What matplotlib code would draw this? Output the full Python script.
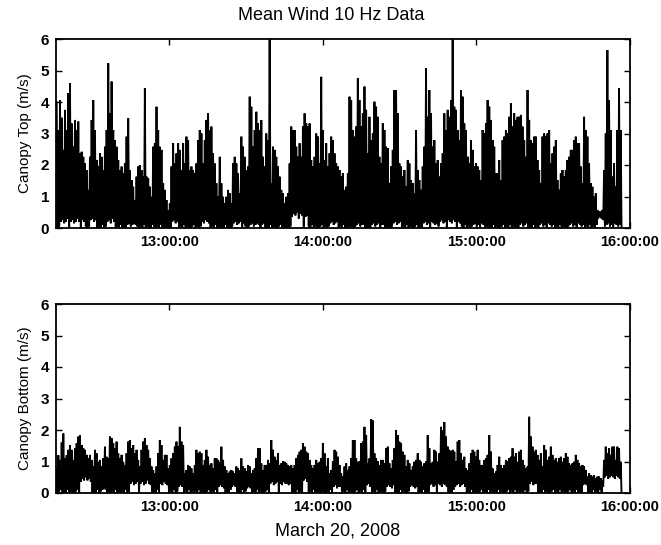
import numpy as np
import matplotlib
matplotlib.use('Agg')
import matplotlib.pyplot as plt
import matplotlib.dates as mdates
from datetime import datetime

# ---------------- data ----------------
title = "Mean Wind 10 Hz Data"
x_label = "March 20, 2008"
top_ylabel = "Canopy Top (m/s)"
bot_ylabel = "Canopy Bottom (m/s)"
y_ticks = [0, 1, 2, 3, 4, 5, 6]
hour_ticks = ["13:00:00", "14:00:00", "15:00:00", "16:00:00"]
view_start = datetime(2008, 3, 20, 12, 15, 45)
view_end = datetime(2008, 3, 20, 16, 0, 0)
sample_start = datetime(2008, 3, 20, 12, 16, 1)
sample_step_s = 39

# canopy top: local maxima (peaks) and minima (lows) of the 10 Hz trace
top_peaks = [
    4.0, 3.1, 4.06, 3.5, 2.48, 3.75, 3.11, 4.28, 4.59, 3.32,
    2.58, 3.43, 3.11, 3.38, 2.37, 2.42, 2.26, 2.05, 1.84, 1.21,
    2.26, 3.43, 4.06, 3.11, 2.16, 1.95, 2.37, 2.26, 1.84, 2.58,
    3.11, 5.23, 3.64, 4.65, 3.11, 2.79, 2.58, 2.16, 1.84, 1.95,
    1.74, 2.05, 2.9, 3.48, 1.84, 1.52, 1.31, 0.89, 1.63, 1.95,
    2.0, 1.84, 1.63, 4.43, 1.63, 1.58, 1.31, 0.99, 2.58, 2.69,
    3.85, 3.11, 2.58, 2.48, 1.42, 1.21, 0.89, 0.57, 0.78, 1.95,
    2.69, 2.05, 2.37, 2.69, 2.48, 1.84, 2.69, 2.05, 2.9, 2.79,
    1.84, 1.95, 1.84, 1.74, 2.05, 2.79, 3.11, 3.0, 2.05, 2.79,
    3.43, 3.64, 3.11, 3.22, 2.37, 2.05, 1.42, 0.99, 2.26, 1.42,
    0.99, 0.78, 0.99, 1.21, 1.1, 0.78, 2.05, 2.26, 2.05, 1.74,
    1.1, 2.9, 2.58, 2.26, 1.84, 1.95, 4.17, 3.85, 2.58, 3.11,
    3.69, 3.32, 3.11, 3.43, 2.26, 1.95, 3.0, 2.79, 6.5, 1.42,
    2.58, 2.48, 2.26, 1.95, 1.63, 1.21, 1.1, 0.78, 0.99, 1.1,
    2.05, 3.22, 3.11, 3.11, 2.58, 2.26, 2.69, 2.26, 3.22, 3.64,
    3.32, 3.22, 3.32, 2.16, 1.95, 2.26, 3.0, 2.9, 2.05, 4.8,
    3.11, 2.16, 2.69, 1.95, 2.37, 2.9, 2.79, 2.37, 2.05, 1.95,
    1.84, 1.63, 1.74,
    1.21, 1.31, 1.74, 4.17, 4.06, 3.11, 2.9, 3.22, 4.75, 4.06,
    3.22, 3.64, 4.49, 3.75, 2.37, 3.53, 2.79, 3.0, 4.01, 3.85,
    3.53, 2.26, 2.05, 3.32, 3.11, 2.58, 2.53, 1.42, 1.95, 2.48,
    4.38, 4.38, 3.64, 2.05, 1.95, 1.63, 1.84, 1.31, 2.16, 2.05,
    1.52, 1.42, 1.1, 3.11, 1.84, 1.52, 1.21, 1.95, 2.58, 5.07,
    3.53, 4.38, 3.64, 2.58, 2.79, 2.05, 2.16, 1.63, 2.05, 2.37,
    3.64, 3.11, 3.75, 3.53, 4.06, 6.5, 3.85, 3.75, 3.11, 2.79,
    4.38, 4.17, 3.32, 3.11, 2.26, 2.05, 2.79, 2.48, 1.95, 2.05,
    1.95, 1.84, 1.52, 3.11, 3.0, 3.32, 4.06, 3.85, 3.43, 2.79,
    2.58, 1.74, 1.74, 2.16, 1.52, 2.79, 2.9, 3.11, 3.0, 3.53,
    3.96, 3.22, 3.64, 3.43, 3.53, 3.53, 3.59, 3.22, 2.79, 2.26,
    4.38, 3.43, 2.79, 2.69, 2.9, 2.9, 2.16, 1.84, 1.42, 2.9,
    3.0, 2.9, 3.0, 3.11, 2.05, 2.37, 2.58, 2.79, 1.52, 1.21,
    1.74, 1.84, 1.63, 1.84, 2.16, 2.26, 2.48, 2.48, 2.79, 2.9,
    2.69, 2.69, 1.95, 1.42, 3.53, 3.11, 2.9, 2.05, 1.42, 1.31,
    0.99, 1.1, 0.57, 0.52, 0.52, 0.57, 1.84, 3.0, 5.65, 4.06,
    3.11, 1.63, 2.05, 1.31, 3.11, 4.43, 3.11,
]
top_lows = [
    0.0, 0.05, 0.2, 0.25, 0.15, 0.2, 0.3, 0.0, 0.2, 0.25, 0.15, 0.2, 0.3, 0.2, 0.0, 0.25, 0.2, 0.05, 0.0, 0.05,
    0.25, 0.3, 0.2, 0.25, 0.0, 0.05, 0.0, 0.1, 0.0, 0.05, 0.2, 0.25, 0.15, 0.3, 0.2, 0.0, 0.05, 0.0, 0.1, 0.0,
    0.05, 0.0, 0.1, 0.15, 0.05, 0.1, 0.15, 0.1, 0.05, 0.0, 0.05, 0.0, 0.1, 0.0, 0.05, 0.0, 0.0, 0.1, 0.05, 0.0,
    0.05, 0.0, 0.1, 0.0, 0.05, 0.0, 0.0, 0.05, 0.0, 0.2, 0.25, 0.15, 0.2, 0.0, 0.05, 0.0, 0.1, 0.0, 0.05, 0.0,
    0.0, 0.05, 0.1, 0.0, 0.05, 0.0, 0.05, 0.2, 0.15, 0.25, 0.2, 0.15, 0.0, 0.05, 0.0, 0.1, 0.0, 0.05, 0.0, 0.05,
    0.0, 0.1, 0.0, 0.05, 0.0, 0.05, 0.15, 0.2, 0.1, 0.15, 0.2, 0.0, 0.15, 0.05, 0.0, 0.05, 0.1, 0.15, 0.05, 0.1,
    0.15, 0.1, 0.0, 0.1, 0.15, 0.0, 0.05, 0.0, 0.1, 0.0, 0.05, 0.0, 0.0, 0.05, 0.1, 0.0, 0.05, 0.0, 0.05, 0.0,
    0.05, 0.35, 0.45, 0.4, 0.5, 0.3, 0.45, 0.4, 0.0, 0.35, 0.4, 0.05, 0.0, 0.1, 0.0, 0.05, 0.0, 0.0, 0.05, 0.1,
    0.0, 0.05, 0.0, 0.05, 0.15, 0.2, 0.1, 0.15, 0.2, 0.0, 0.05, 0.0, 0.1, 0.0, 0.05, 0.0, 0.05, 0.0, 0.0, 0.05,
    0.1, 0.15, 0.05, 0.1, 0.1, 0.0, 0.05, 0.0, 0.0, 0.1, 0.15, 0.05, 0.1, 0.15, 0.0, 0.1, 0.1, 0.0, 0.05, 0.0,
    0.0, 0.05, 0.15, 0.2, 0.1, 0.15, 0.2, 0.0, 0.05, 0.0, 0.1, 0.0, 0.05, 0.0, 0.0, 0.05, 0.1, 0.0, 0.05, 0.0,
    0.15, 0.2, 0.1, 0.15, 0.0, 0.2, 0.15, 0.1, 0.15, 0.05, 0.2, 0.25, 0.15, 0.2, 0.0, 0.25, 0.2, 0.15, 0.25, 0.2,
    0.0, 0.2, 0.15, 0.05, 0.0, 0.1, 0.0, 0.05, 0.0, 0.05, 0.1, 0.15, 0.05, 0.1, 0.0, 0.15, 0.1, 0.0, 0.05, 0.0,
    0.05, 0.0, 0.1, 0.0, 0.05, 0.0, 0.0, 0.05, 0.1, 0.0, 0.05, 0.0, 0.1, 0.0, 0.05, 0.0, 0.05, 0.0, 0.1, 0.15,
    0.05, 0.1, 0.15, 0.0, 0.05, 0.0, 0.1, 0.0, 0.05, 0.0, 0.1, 0.15, 0.05, 0.1, 0.0, 0.15, 0.1, 0.05, 0.1, 0.0,
    0.05, 0.0, 0.1, 0.0, 0.05, 0.0, 0.0, 0.05, 0.1, 0.15, 0.05, 0.1, 0.0, 0.15, 0.1, 0.05, 0.1, 0.0, 0.05, 0.0,
    0.1, 0.0, 0.05, 0.0, 0.1, 0.3, 0.35, 0.3, 0.25, 0.05, 0.1, 0.15, 0.05, 0.1, 0.0, 0.15, 0.1, 0.05, 0.1, 0.0,
]

# canopy bottom
bot_peaks = [
    0.8, 1.2, 1.05, 1.6, 1.89, 1.1, 1.2, 1.37, 1.52, 1.37,
    1.05, 1.42, 1.58, 1.79, 1.84, 1.52, 1.42, 1.37, 1.21, 1.1,
    1.21, 1.05, 0.84, 1.37, 1.26, 0.99, 1.05, 0.84, 1.1, 1.47,
    1.15, 1.1, 1.79, 1.74, 1.58, 1.42, 1.63, 1.26, 1.1, 1.21,
    0.99, 0.89, 1.26, 1.63, 1.68, 1.42, 1.52, 1.26, 1.37, 1.05,
    0.84, 1.37, 1.63, 1.74, 1.52, 1.37, 1.1, 0.84, 0.73, 0.62,
    0.84, 1.26, 1.68, 1.52, 1.05, 1.21, 1.21, 0.78, 0.89, 1.1,
    1.26, 1.47, 1.63, 1.47, 2.1, 1.63, 1.52, 0.62, 0.73, 0.89,
    0.84, 0.78, 0.62, 0.89, 1.37, 1.26, 1.31, 1.26, 0.89, 1.05,
    1.37, 1.15, 0.89, 0.94, 0.78, 1.1, 1.1, 1.05, 0.99, 1.47,
    1.05, 0.84, 0.73, 0.62, 0.68, 0.73, 0.68, 0.62, 0.84, 0.78,
    0.73, 1.1, 0.84, 0.78, 0.68, 0.89, 0.84, 0.62, 0.73, 0.78,
    1.1, 1.42, 1.42, 0.94, 0.73, 0.89, 0.89, 1.05, 0.94, 1.68,
    1.37, 1.15, 1.05, 1.26, 0.89, 0.94, 1.0, 0.99, 0.94, 0.89,
    0.84, 0.89, 0.78, 0.89, 1.1, 1.21, 1.31, 1.37, 1.58, 1.47,
    1.31, 1.26, 1.05, 0.89, 0.78, 0.89, 1.05, 0.94, 0.99, 1.1,
    1.58, 1.26, 0.84, 1.1, 0.62, 0.73, 1.0, 1.37, 1.31, 1.15,
    0.89, 0.62, 0.52,
    0.84, 0.94, 0.73, 0.84, 1.1, 1.68, 1.68, 1.1, 0.99, 1.0,
    1.58, 1.63, 2.1, 1.84, 0.94, 1.1, 2.34, 2.3, 1.26, 1.1,
    1.0, 0.89, 1.05, 1.05, 0.94, 1.42, 1.47, 0.94, 0.78, 1.05,
    1.42, 2.0, 1.84, 1.63, 1.58, 1.31, 1.21, 0.84, 1.05, 0.94,
    0.73, 0.84, 0.99, 1.05, 1.26, 1.05, 0.99, 0.84, 0.94, 1.0,
    1.84, 1.42, 0.94, 0.99, 1.37, 1.31, 0.99, 1.26, 2.1, 2.0,
    2.25, 1.79, 1.47, 1.37, 1.31, 1.37, 1.31, 1.0, 1.63, 1.68,
    1.26, 1.05, 1.15, 0.78, 0.73, 0.94, 1.26, 1.37, 1.31, 1.15,
    1.37, 1.05, 0.89, 0.89, 1.05, 1.1, 1.21, 1.84, 1.31, 0.78,
    0.62, 0.68, 0.89, 1.15, 0.89, 0.78, 0.89, 1.05, 1.0, 1.1,
    1.15, 1.42, 1.15, 1.26, 0.99, 1.31, 1.37, 1.05, 0.89, 0.78,
    0.84, 2.42, 1.79, 1.47, 1.31, 1.37, 1.21, 1.05, 1.26, 0.84,
    1.52, 1.37, 1.05, 1.15, 1.47, 1.21, 1.05, 1.1, 0.99, 1.1,
    1.15, 0.99, 1.1, 1.26, 1.15, 0.94, 0.89, 0.94, 0.99, 1.21,
    1.05, 0.94, 0.84, 0.89, 0.84, 0.73, 0.52, 0.62, 0.57, 0.52,
    0.57, 0.47, 0.52, 0.52, 0.47, 0.41, 1.05, 1.47, 1.26, 1.42,
    1.21, 1.47, 1.47, 1.05, 1.47, 1.42, 0.99,
]
bot_lows = [
    0.0, 0.05, 0.1, 0.0, 0.05, 0.0, 0.1, 0.0, 0.05, 0.0, 0.0, 0.05, 0.1, 0.0, 0.35, 0.45, 0.4, 0.5, 0.4, 0.45,
    0.35, 0.0, 0.05, 0.0, 0.1, 0.0, 0.05, 0.1, 0.15, 0.1, 0.0, 0.05, 0.0, 0.05, 0.0, 0.1, 0.0, 0.05, 0.0, 0.05,
    0.0, 0.1, 0.0, 0.05, 0.3, 0.35, 0.25, 0.3, 0.35, 0.0, 0.3, 0.35, 0.25, 0.3, 0.4, 0.3, 0.25, 0.0, 0.05, 0.0,
    0.1, 0.0, 0.3, 0.25, 0.35, 0.3, 0.25, 0.0, 0.05, 0.0, 0.1, 0.0, 0.05, 0.2, 0.25, 0.2, 0.0, 0.05, 0.0, 0.1,
    0.0, 0.05, 0.0, 0.05, 0.0, 0.1, 0.0, 0.05, 0.0, 0.0, 0.05, 0.1, 0.0, 0.05, 0.0, 0.1, 0.0, 0.2, 0.25, 0.2,
    0.15, 0.0, 0.05, 0.0, 0.1, 0.2, 0.25, 0.2, 0.0, 0.05, 0.0, 0.1, 0.0, 0.05, 0.15, 0.2, 0.15, 0.0, 0.05, 0.0,
    0.1, 0.0, 0.05, 0.0, 0.0, 0.05, 0.1, 0.0, 0.3, 0.35, 0.25, 0.3, 0.35, 0.0, 0.3, 0.25, 0.35, 0.3, 0.3, 0.25,
    0.3, 0.0, 0.05, 0.0, 0.1, 0.0, 0.05, 0.0, 0.4, 0.45, 0.35, 0.0, 0.05, 0.0, 0.1, 0.0, 0.05, 0.0, 0.0, 0.05,
    0.1, 0.0, 0.05, 0.0, 0.1, 0.0, 0.2, 0.25, 0.15, 0.2, 0.2, 0.0, 0.05, 0.0, 0.1, 0.0, 0.05, 0.0, 0.0, 0.05,
    0.1, 0.0, 0.05, 0.0, 0.1, 0.0, 0.25, 0.3, 0.2, 0.0, 0.05, 0.0, 0.1, 0.0, 0.05, 0.0, 0.0, 0.05, 0.2, 0.25,
    0.2, 0.15, 0.25, 0.0, 0.05, 0.0, 0.1, 0.0, 0.05, 0.0, 0.0, 0.05, 0.2, 0.25, 0.2, 0.15, 0.2, 0.0, 0.05, 0.0,
    0.1, 0.0, 0.05, 0.0, 0.25, 0.3, 0.2, 0.25, 0.0, 0.3, 0.25, 0.2, 0.3, 0.25, 0.2, 0.0, 0.05, 0.0, 0.1, 0.2,
    0.25, 0.3, 0.2, 0.25, 0.3, 0.2, 0.0, 0.05, 0.0, 0.1, 0.0, 0.05, 0.0, 0.0, 0.05, 0.1, 0.0, 0.05, 0.0, 0.1,
    0.0, 0.05, 0.0, 0.05, 0.0, 0.1, 0.0, 0.05, 0.0, 0.0, 0.05, 0.1, 0.0, 0.05, 0.0, 0.1, 0.0, 0.05, 0.0, 0.05,
    0.0, 0.1, 0.0, 0.05, 0.3, 0.35, 0.25, 0.3, 0.3, 0.0, 0.05, 0.0, 0.1, 0.0, 0.05, 0.0, 0.0, 0.05, 0.1, 0.0,
    0.05, 0.0, 0.1, 0.0, 0.05, 0.0, 0.0, 0.05, 0.1, 0.0, 0.05, 0.0, 0.1, 0.0, 0.05, 0.0, 0.25, 0.3, 0.25, 0.0,
    0.05, 0.0, 0.1, 0.0, 0.05, 0.0, 0.1, 0.0, 0.2, 0.5, 0.55, 0.45, 0.5, 0.55, 0.5, 0.45, 0.55, 0.5, 0.45, 0.0,
]

# ---------------- plotting ----------------
plt.rcParams['font.family'] = ['Liberation Sans', 'DejaVu Sans']


def trace(peaks, lows):
    n = min(len(peaks), len(lows))
    base = mdates.date2num(sample_start)
    step = sample_step_s / 86400.0
    idx = np.arange(n)
    t = np.empty(2 * n)
    y = np.empty(2 * n)
    t[0::2] = base + idx * step
    t[1::2] = base + (idx + 0.5) * step
    y[0::2] = np.asarray(peaks[:n])
    y[1::2] = np.asarray(lows[:n])
    return t, y


fig = plt.figure(figsize=(6.61, 5.45), dpi=100)
W, H = 661.0, 545.0
ax_top = fig.add_axes([56 / W, 1 - 228 / H, 574 / W, 189 / H])
ax_bot = fig.add_axes([56 / W, 1 - 493 / H, 574 / W, 189 / H])

tick_dates = [datetime.strptime("2008-03-20 " + s, "%Y-%m-%d %H:%M:%S") for s in hour_ticks]

for ax, peaks, lows, ylab in [(ax_top, top_peaks, top_lows, top_ylabel),
                               (ax_bot, bot_peaks, bot_lows, bot_ylabel)]:
    t, y = trace(peaks, lows)
    ax.plot(t, y, color='black', lw=1.35, solid_joinstyle='miter', antialiased=True)
    ax.set_xlim(mdates.date2num(view_start), mdates.date2num(view_end))
    ax.set_ylim(0, 6)
    ax.set_yticks(y_ticks)
    ax.set_xticks(mdates.date2num(tick_dates))
    ax.set_xticklabels(hour_ticks)
    ax.tick_params(direction='in', length=4, width=1.0, top=True, right=True,
                   labelsize=10.5, pad=5)
    ax.tick_params(axis='y', labelsize=11)
    for lbl in ax.get_xticklabels() + ax.get_yticklabels():
        lbl.set_fontweight('bold')
    for sp in ax.spines.values():
        sp.set_linewidth(1.3)
    ax.set_ylabel(ylab, fontsize=11, labelpad=6)

fig.text((56 + 630) / 2 / W - 0.018, 1 - 15 / H, title, ha='center', va='center', fontsize=13)
fig.text((56 + 630) / 2 / W - 0.008, 1 - 531 / H, x_label, ha='center', va='center', fontsize=13)

fig.savefig('out.png', dpi=100)
print(len(top_peaks), len(top_lows), len(bot_peaks), len(bot_lows))
